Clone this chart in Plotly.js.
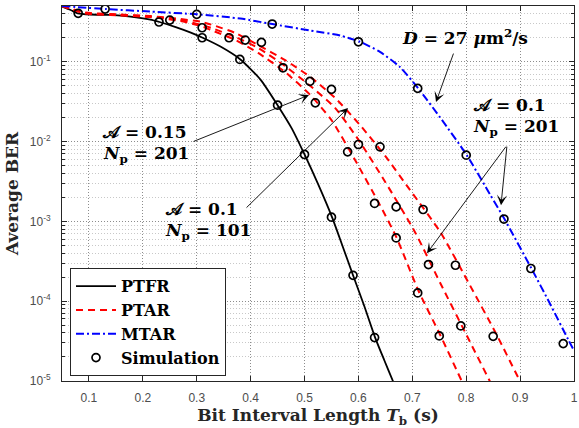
<!DOCTYPE html>
<html><head><meta charset="utf-8">
<script src="https://cdn.plot.ly/plotly-3.0.1.min.js"></script>
<style>html,body{margin:0;padding:0;background:#fff}#chart{width:579px;height:428px}</style>
</head><body><div id="chart"></div>
<script>
// ---------- data ----------
const ptfrX = [0.050,0.066,0.079,0.103,0.140,0.177,0.214,0.231,0.261,0.289,0.311,0.344,0.381,0.419,0.450,0.476,0.500,0.526,0.551,0.570,0.590,0.611,0.631,0.648,0.664,0.680];
const ptfrY = [0.492,0.445,0.405,0.391,0.386,0.369,0.338,0.315,0.272,0.232,0.200,0.155,0.107,0.0590,0.0286,0.01475,0.0069,0.00284,0.00113,5.03e-4,2.11e-4,8.65e-5,3.50e-5,1.82e-5,1.0e-5,5.5e-6];

const ptar1X = [0.050,0.094,0.140,0.214,0.270,0.307,0.327,0.372,0.414,0.464,0.511,0.550,0.594,0.640,0.671,0.711,0.752,0.792,0.807];
const ptar1Y = [0.500,0.402,0.386,0.363,0.324,0.281,0.249,0.187,0.129,0.0743,0.0382,0.01858,0.00585,0.00160,6.21e-4,1.37e-4,3.74e-5,9.9e-6,6.07e-6];

const ptar2X = [0.050,0.094,0.140,0.214,0.270,0.307,0.327,0.372,0.414,0.464,0.511,0.557,0.603,0.650,0.705,0.752,0.798,0.844,0.859];
const ptar2Y = [0.500,0.408,0.391,0.369,0.333,0.292,0.265,0.204,0.149,0.0883,0.0496,0.0263,0.00984,0.00310,7.33e-4,1.68e-4,4.08e-5,9.9e-6,6.25e-6];

const ptar3X = [0.050,0.094,0.140,0.214,0.270,0.307,0.327,0.372,0.414,0.464,0.511,0.557,0.603,0.650,0.696,0.752,0.807,0.857,0.900,0.915];
const ptar3Y = [0.500,0.414,0.396,0.374,0.343,0.318,0.292,0.229,0.162,0.105,0.0643,0.0351,0.0161,0.00657,0.00246,7.33e-4,1.58e-4,3.74e-5,9.9e-6,6.43e-6];

const mtarX = [0.050,0.131,0.214,0.301,0.381,0.440,0.511,0.566,0.603,0.640,0.677,0.711,0.751,0.801,0.844,0.871,0.921,0.955,0.989,1.000];
const mtarY = [0.500,0.458,0.426,0.393,0.348,0.297,0.246,0.213,0.178,0.133,0.0859,0.0464,0.0203,0.00676,0.00219,0.00107,2.57e-4,9.42e-5,3.33e-5,2.4e-5];

const simPtfrX = [0.08,0.23,0.31,0.38,0.45,0.50,0.55,0.59,0.63];
const simPtfrY = [0.405,0.315,0.200,0.107,0.0286,0.0069,0.00113,2.11e-4,3.50e-5];

const simPtarX = [0.25,0.31,0.36,0.39,0.42,0.46,0.51,0.52,0.55,0.58,0.60,0.64,0.63,0.67,0.72,0.67,0.73,0.78,0.71,0.79,0.75,0.85];
const simPtarY = [0.333,0.267,0.200,0.187,0.175,0.0841,0.0568,0.0306,0.0451,0.00744,0.0092,0.00859,0.00168,0.00152,0.00141,6.21e-4,2.88e-4,2.82e-4,1.27e-4,4.90e-5,3.67e-5,3.63e-5];

const simMtarX = [0.13,0.30,0.44,0.60,0.71,0.80,0.87,0.92,0.98];
const simMtarY = [0.458,0.393,0.297,0.178,0.0464,0.00676,0.00107,2.57e-4,2.94e-5];

const xTickVals = [0.1,0.2,0.3,0.4,0.5,0.6,0.7,0.8,0.9,1];
const xTickText = ['0.1','0.2','0.3','0.4','0.5','0.6','0.7','0.8','0.9','1'];
const yTickVals = [1e-5,1e-4,1e-3,1e-2,1e-1];
const yTickText = ['10<sup>-5</sup>','10<sup>-4</sup>','10<sup>-3</sup>','10<sup>-2</sup>','10<sup>-1</sup>'];

const legendNames = ['PTFR','PTAR','MTAR','Simulation'];

// ---------- styling ----------
const SERIF = 'DejaVu Serif';
const redDash = '7px,5px';
const blueDash = '8px,3px,2px,3px';

const traces = [
  {x: ptfrX, y: ptfrY, mode:'lines', name: legendNames[0], legendrank:1,
   line:{color:'#000000', width:1.8, shape:'spline', smoothing:0.6}},
  {x: ptar1X, y: ptar1Y, mode:'lines', name: legendNames[1], legendrank:2,
   line:{color:'#ff0000', width:2, dash:redDash, shape:'spline', smoothing:0.6}},
  {x: ptar2X, y: ptar2Y, mode:'lines', name: legendNames[1], showlegend:false,
   line:{color:'#ff0000', width:2, dash:redDash, shape:'spline', smoothing:0.6}},
  {x: ptar3X, y: ptar3Y, mode:'lines', name: legendNames[1], showlegend:false,
   line:{color:'#ff0000', width:2, dash:redDash, shape:'spline', smoothing:0.6}},
  {x: mtarX, y: mtarY, mode:'lines', name: legendNames[2], legendrank:3,
   line:{color:'#0000ff', width:2, dash:blueDash, shape:'spline', smoothing:0.6}},
  {x: simPtfrX, y: simPtfrY, mode:'markers', name: legendNames[3], legendrank:4,
   marker:{symbol:'circle-open', size:8, color:'#000', line:{width:1.7, color:'#000'}}},
  {x: simPtarX, y: simPtarY, mode:'markers', name: legendNames[3], showlegend:false,
   marker:{symbol:'circle-open', size:8, color:'#000', line:{width:1.7, color:'#000'}}},
  {x: simMtarX, y: simMtarY, mode:'markers', name: legendNames[3], showlegend:false,
   marker:{symbol:'circle-open', size:8, color:'#000', line:{width:1.7, color:'#000'}}}
];

// plot-area pixel frame (for placing text annotations)
const PL=62, PR=574, PT=6, PB=380.7;
const fx = p => (p-PL)/(PR-PL);
const fy = p => (PB-p)/(PB-PT);

function label(txt, xp, yp, anchor){
  return {xref:'paper', yref:'paper', x: fx(xp), y: fy(yp), text: txt, showarrow:false,
          xanchor: anchor||'left', yanchor:'middle',
          font:{family:SERIF, size:17, color:'#000'}};
}
function arrow(tx, ty, hx, hy){
  return {xref:'paper', yref:'paper', x: fx(hx), y: fy(hy), ax: tx-hx, ay: ty-hy,
          text:'', showarrow:true, arrowhead:3, arrowsize:1.9, arrowwidth:0.9,
          arrowcolor:'#000', standoff:0, startstandoff:0};
}

const annotations = [
  label('<b><i>D</i> = 27 <i>μ</i>m<sup>2</sup>/s</b>', 465, 37, 'center'),
  arrow(454, 52, 436, 102),
  label('<b>𝒜 = 0.1</b>', 471, 105),
  label('<b><i>N</i><sub>p</sub> = 201</b>', 471, 127),
  arrow(507, 145, 501, 205),
  arrow(507, 145, 427, 253),
  label('<b>𝒜 = 0.15</b>', 100, 132),
  label('<b><i>N</i><sub>p</sub> = 201</b>', 101, 154),
  arrow(192, 142, 309, 95),
  label('<b>𝒜 = 0.1</b>', 163, 209),
  label('<b><i>N</i><sub>p</sub> = 101</b>', 163, 231),
  arrow(245, 209, 348, 108)
];

const axisCommon = {
  showline:true, mirror:'ticks', linecolor:'#262626', linewidth:1,
  ticks:'inside', ticklen:5, tickcolor:'#262626', tickwidth:1,
  showgrid:true, gridcolor:'#8c8c8c', griddash:'1px,2px', gridwidth:1,
  zeroline:false,
  tickfont:{family:'Liberation Sans', size:12, color:'#4d4d4d'}
};

const layout = {
  width:579, height:428,
  margin:{l:62, r:5, t:6, b:47.3, pad:0},
  paper_bgcolor:'#ffffff', plot_bgcolor:'#ffffff',
  font:{family:SERIF, color:'#262626'},
  showlegend:true,
  legend:{x: fx(70), y: fy(376), xanchor:'left', yanchor:'bottom',
          bgcolor:'#ffffff', bordercolor:'#262626', borderwidth:1,
          font:{family:SERIF, size:16, color:'#000', weight:'bold'}, itemwidth:40, tracegroupgap:0},
  xaxis: Object.assign({}, axisCommon, {
    range:[0.05, 1], tickmode:'array', tickvals:xTickVals, ticktext:xTickText,
    ticklabelstandoff:6,
    title:{text:'<b>Bit Interval Length <i>T</i><sub>b</sub> (s)</b>', standoff:8,
           font:{family:SERIF, size:17, color:'#262626'}}
  }),
  yaxis: Object.assign({}, axisCommon, {
    type:'log', range:[-5, Math.log10(0.5)], tickmode:'array',
    tickvals:yTickVals, ticktext:yTickText, ticklabelstandoff:8,
    minor:{dtick:'D1', showgrid:true, gridcolor:'#c8c8c8', griddash:'1px,2px', gridwidth:1,
           ticks:'inside', ticklen:3, tickcolor:'#262626'},
    title:{text:'<b>Average BER</b>', standoff:6,
           font:{family:SERIF, size:17, color:'#262626'}}
  }),
  annotations: annotations
};

Plotly.newPlot('chart', traces, layout, {displayModeBar:false, staticPlot:true});
</script></body></html>
